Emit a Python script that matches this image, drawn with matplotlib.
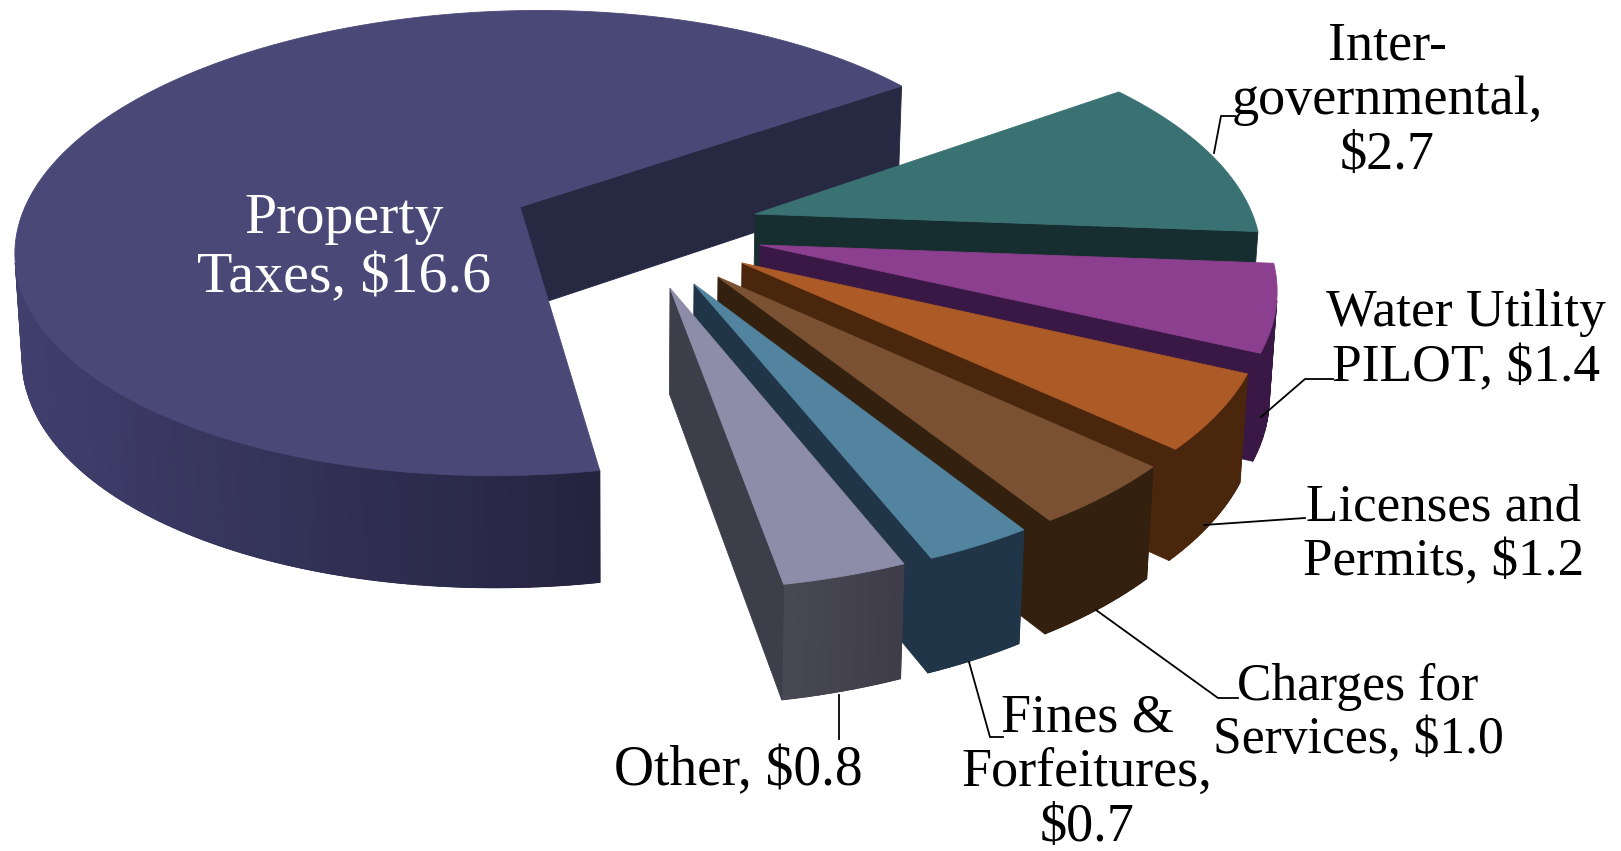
import numpy as np
import matplotlib
matplotlib.use("Agg")
import matplotlib.pyplot as plt
from matplotlib.collections import PolyCollection
from matplotlib.colors import to_rgb

# Revenue by source, millions of dollars
sources = ["Property Taxes", "Intergovernmental", "Water Utility PILOT", "Licenses and Permits",
           "Charges for Services", "Fines & Forfeitures", "Other"]
values = [16.6, 2.7, 1.4, 1.2, 1.0, 0.7, 0.8]
top_colors = ["#4a4877", "#3a7274", "#8c3f8e", "#ac5a26", "#7a5233", "#52849f", "#8e8da9"]
cut_colors = ["#272842", "#172e30", "#3a1845", "#4a260c", "#33200f", "#203547", "#3e3e4a"]
rim_left = ["#413f6e", "#172e30", "#3a1845", "#4a260c", "#33200f", "#203547", "#484854"]
rim_right = ["#24243f", "#172e30", "#3a1845", "#4a260c", "#33200f", "#203547", "#3f3d4a"]
# Where each exploded wedge's tip sits on the page
tips = [(520, 207), (755, 214), (760, 245), (742, 263), (718, 277), (694, 284), (670, 288)]

labels = ["Property\nTaxes, $16.6", "Inter-\ngovernmental,\n$2.7", "Water Utility\nPILOT, $1.4",
          "Licenses and\nPermits, $1.2", "Charges for\nServices, $1.0",
          "Fines &\nForfeitures,\n$0.7", "Other, $0.8"]
label_pos = [(344, 249), (1387, 101), (1466, 341), (1444, 535), (1358, 714), (1087, 773), (738, 771)]
label_sizes = [41.8, 39, 38.5, 38.2, 37.2, 39, 40]
label_spacing = [1.18, 1.12, 1.2, 1.18, 1.15, 1.1, 1.05]
label_colors = ["white", "black", "black", "black", "black", "black", "black"]
leaders = [[(1214, 153), (1221, 116), (1235, 116)],
           [(1261, 417), (1305, 379), (1333, 379)],
           [(1204, 525), (1305, 518)],
           [(1096, 610), (1218, 698), (1238, 698)],
           [(969, 662), (990, 737), (1003, 737)],
           [(839, 695), (839, 739)]]

# Perspective camera for the pie plane
CX, CY = 664.0, 207.0
RX, RY = 495.0, 227.0
PERSP = 0.155
DEPTH = 103.0
START_ANGLE = 35.5


def project(u, v, lower=False):
    w = 1 - PERSP * v
    x = CX + RX * u / w
    y = CY + RY * v / w
    if lower:
        y = y + DEPTH * w ** -0.5
        x = x - (x - 620) * 0.012
    return np.column_stack([x, y])


def unproject(x, y):
    vw = (y - CY) / RY
    v = vw / (1 + PERSP * vw)
    u = (x - CX) / RX * (1 - PERSP * v)
    return u, v


def shoelace(p):
    x, y = p[:, 0], p[:, 1]
    return 0.5 * np.sum(x * np.roll(y, -1) - np.roll(x, -1) * y)


def draw_wedge(ax, tip, theta_hi, theta_lo, top, cut, left, right, z):
    u0, v0 = unproject(*tip)
    th = np.radians(np.linspace(theta_lo, theta_hi, max(8, int(theta_hi - theta_lo))))
    us = u0 + np.cos(th)
    vs = v0 - np.sin(th)
    rim_top = project(us, vs)
    rim_low = project(us, vs, True)
    tip_top = project(np.array([u0]), np.array([v0]))
    tip_low = project(np.array([u0]), np.array([v0]), True)

    keep = [i for i in range(len(th) - 1)
            if shoelace(np.vstack([rim_top[i], rim_top[i + 1], rim_low[i + 1], rim_low[i]])) > 0]
    if keep:
        quads = [np.vstack([rim_top[i], rim_top[i + 1], rim_low[i + 1], rim_low[i]]) for i in keep]
        xs = np.array([q[:, 0].mean() for q in quads])
        span = max(xs.max() - xs.min(), 1)
        c0, c1 = np.array(to_rgb(left)), np.array(to_rgb(right))
        cols = [tuple(c0 + (c1 - c0) * (x - xs.min()) / span) for x in xs]
        # A solid band beneath the shaded strips keeps their seams from showing
        idx = keep + [keep[-1] + 1]
        band = np.vstack([rim_top[idx], rim_low[idx][::-1]])
        ax.fill(band[:, 0], band[:, 1], color=tuple((c0 + c1) / 2), lw=0.5, zorder=z)
        ax.add_collection(PolyCollection(quads, facecolors=cols, edgecolors=cols, linewidths=0.8, zorder=z + 0.05))

    faces = [np.vstack([tip_top[0], rim_top[0], rim_low[0], tip_low[0]]),
             np.vstack([rim_top[-1], tip_top[0], tip_low[0], rim_low[-1]])]
    for f in faces:
        if shoelace(f) > 0:
            ax.fill(f[:, 0], f[:, 1], color=cut, lw=0.6, zorder=z + 0.1)

    outline = np.vstack([tip_top, rim_top])
    ax.fill(outline[:, 0], outline[:, 1], color=top, lw=0.6, zorder=z + 0.2)


plt.rcParams["font.family"] = ["Liberation Serif", "DejaVu Serif"]
fig = plt.figure(figsize=(16.21, 8.51), dpi=100)
ax = fig.add_axes([0, 0, 1, 1])
ax.set_xlim(0, 1621)
ax.set_ylim(851, 0)
ax.axis("off")

sweeps = np.array(values) / sum(values) * 360.0
# Property Taxes runs counter-clockwise from the start angle; the rest run clockwise from it
edge = START_ANGLE
draw_wedge(ax, tips[0], START_ANGLE + sweeps[0], START_ANGLE, top_colors[0], cut_colors[0],
           rim_left[0], rim_right[0], 2)
for i in range(1, len(values)):
    draw_wedge(ax, tips[i], edge, edge - sweeps[i], top_colors[i], cut_colors[i],
               rim_left[i], rim_right[i], 2 + i)
    edge -= sweeps[i]

for path in leaders:
    xs, ys = zip(*path)
    ax.plot(xs, ys, color="black", lw=1.3, zorder=20, solid_joinstyle="miter")

for text, (x, y), col, size, gap in zip(labels, label_pos, label_colors, label_sizes, label_spacing):
    ax.text(x, y, text, ha="center", va="center", ma="center", fontsize=size, color=col,
            linespacing=gap, zorder=30)

fig.savefig("out.png", dpi=100, facecolor="white")
